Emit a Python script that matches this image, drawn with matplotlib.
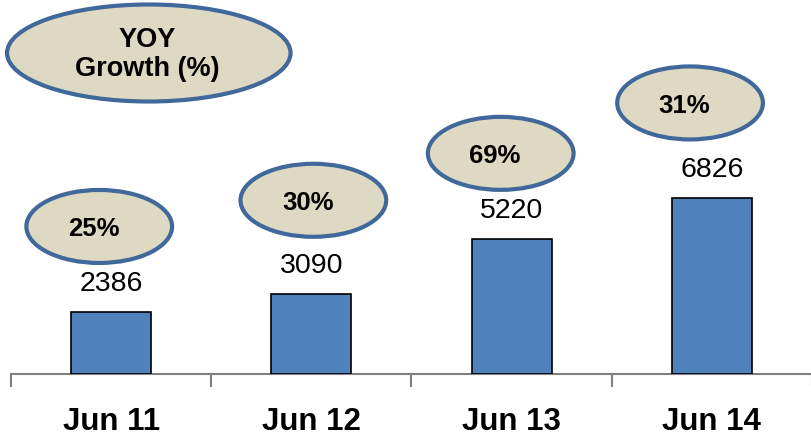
import matplotlib.pyplot as plt
from matplotlib.patches import Ellipse

plt.rcParams["font.family"] = ["Liberation Sans", "DejaVu Sans"]

categories = ["Jun 11", "Jun 12", "Jun 13", "Jun 14"]
values = [2386, 3090, 5220, 6826]
growth = ["25%", "30%", "69%", "31%"]

# bubble placement relative to the bar top, in pixels
ell_dx = [-12, 2, -11, -22]
ell_dy = [86, 94, 86, 95]
ELL_W, ELL_H = 147, 73

W, H = 812, 438
fig = plt.figure(figsize=(W / 100, H / 100), dpi=100)
ax = fig.add_axes([11 / W, (H - 374) / H, (W - 11) / W, 374 / H])

px_x = 202.0  # pixels per category
ymax = 14500
px_y = 374.0 / ymax

fill = "#DDD9C3"
edge = "#41689A"

x = range(len(categories))
ax.bar(x, values, width=0.4, color="#4F81BD", edgecolor="black", linewidth=1.2, zorder=3)
ax.set_xlim(-0.5, -0.5 + (W - 11) / px_x)
ax.set_ylim(0, ymax)

for i, v in enumerate(values):
    ax.annotate(str(v), (i, v), xytext=(0, 11), textcoords="offset points",
                ha="center", va="bottom", fontsize=20.5)
    cx = i + ell_dx[i] / px_x
    cy = v + ell_dy[i] / px_y
    ax.add_patch(Ellipse((cx, cy), ELL_W / px_x, ELL_H / px_y, facecolor=fill,
                         edgecolor=edge, linewidth=3, zorder=4))
    ax.annotate(growth[i], (cx, cy), xytext=(-4, -2), textcoords="offset points",
                ha="center", va="center", fontsize=18.5, fontweight="bold", zorder=5)

# title bubble
tx, ty = -0.5 + 139 / px_x, (374 - 53) / px_y
ax.add_patch(Ellipse((tx, ty), 286 / px_x, 97 / px_y, facecolor=fill,
                     edgecolor=edge, linewidth=3, zorder=4, clip_on=False))
ax.annotate("YOY\nGrowth (%)", (tx, ty), xytext=(-1, -1), textcoords="offset points",
            ha="center", va="center", fontsize=19.5, fontweight="bold",
            linespacing=1.15, zorder=5)

for s in ["top", "right", "left"]:
    ax.spines[s].set_visible(False)
ax.spines["bottom"].set_color("#808080")
ax.spines["bottom"].set_linewidth(1.5)
ax.set_yticks([])
ax.set_xticks(list(x))
ax.set_xticklabels(categories, fontsize=22.5, fontweight="bold")
ax.tick_params(axis="x", which="major", length=0, pad=24)
ax.set_xticks([i - 0.5 for i in range(len(categories) + 1)], minor=True)
ax.tick_params(axis="x", which="minor", length=9, width=1.5, color="#808080")

fig.savefig("out.png", dpi=100)
